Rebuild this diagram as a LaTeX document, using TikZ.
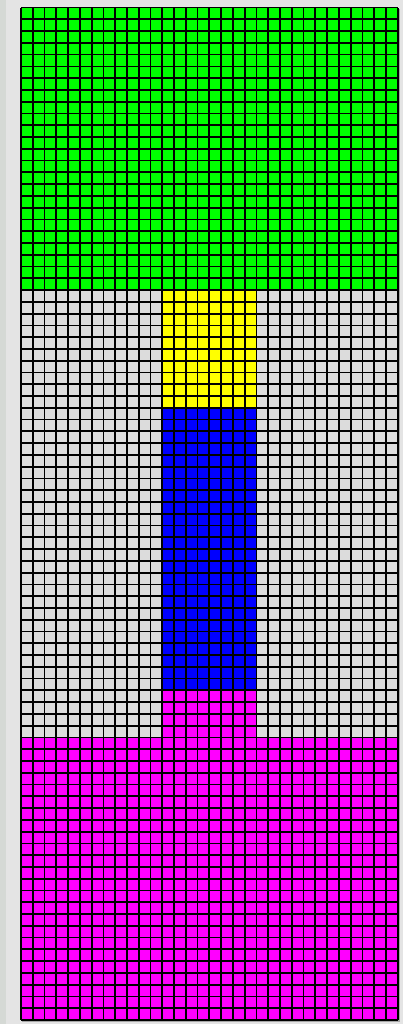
\documentclass[tikz,border=0pt]{standalone}
\usepackage{tikz}
\usepackage{xcolor}
\definecolor{panelgray}{HTML}{E4E4E4}
\definecolor{edgegray}{HTML}{D5D9D5}
\definecolor{cellgray}{HTML}{DCDCDC}
\definecolor{cellgreen}{HTML}{00FF00}
\definecolor{cellyellow}{HTML}{FFFF00}
\definecolor{cellblue}{HTML}{0000FF}
\definecolor{cellmagenta}{HTML}{FF00FF}

\begin{document}
\begin{tikzpicture}[
  x=0.3cm,y=0.3cm,
  region/.style={draw=none},
  gridline/.style={line width=0.045cm,draw=black}
]
\useasboundingbox (-1.783,-0.34) rectangle (32.42,86.64);
\fill[panelgray] (-1.783,-0.34) rectangle (32.42,86.64);
\fill[edgegray] (-1.783,-0.34) rectangle (-1.27,86.64);
\fill[region,cellgreen] (0,62) rectangle (32,86);
\fill[region,cellgray] (0,24) rectangle (12,62);
\fill[region,cellgray] (20,24) rectangle (32,62);
\fill[region,cellyellow] (12,52) rectangle (20,62);
\fill[region,cellblue] (12,28) rectangle (20,52);
\fill[region,cellmagenta] (12,24) rectangle (20,28);
\fill[region,cellmagenta] (0,0) rectangle (32,24);
\draw[gray!70,line width=0.04cm] (0.1,-0.12) -- (32.12,-0.12) -- (32.12,85.9);
\foreach \i in {0,...,32}
  \draw[gridline] (\i,0) -- (\i,86);
\foreach \j in {0,...,86}
  \draw[gridline] (0,\j) -- (32,\j);
\end{tikzpicture}
\end{document}
